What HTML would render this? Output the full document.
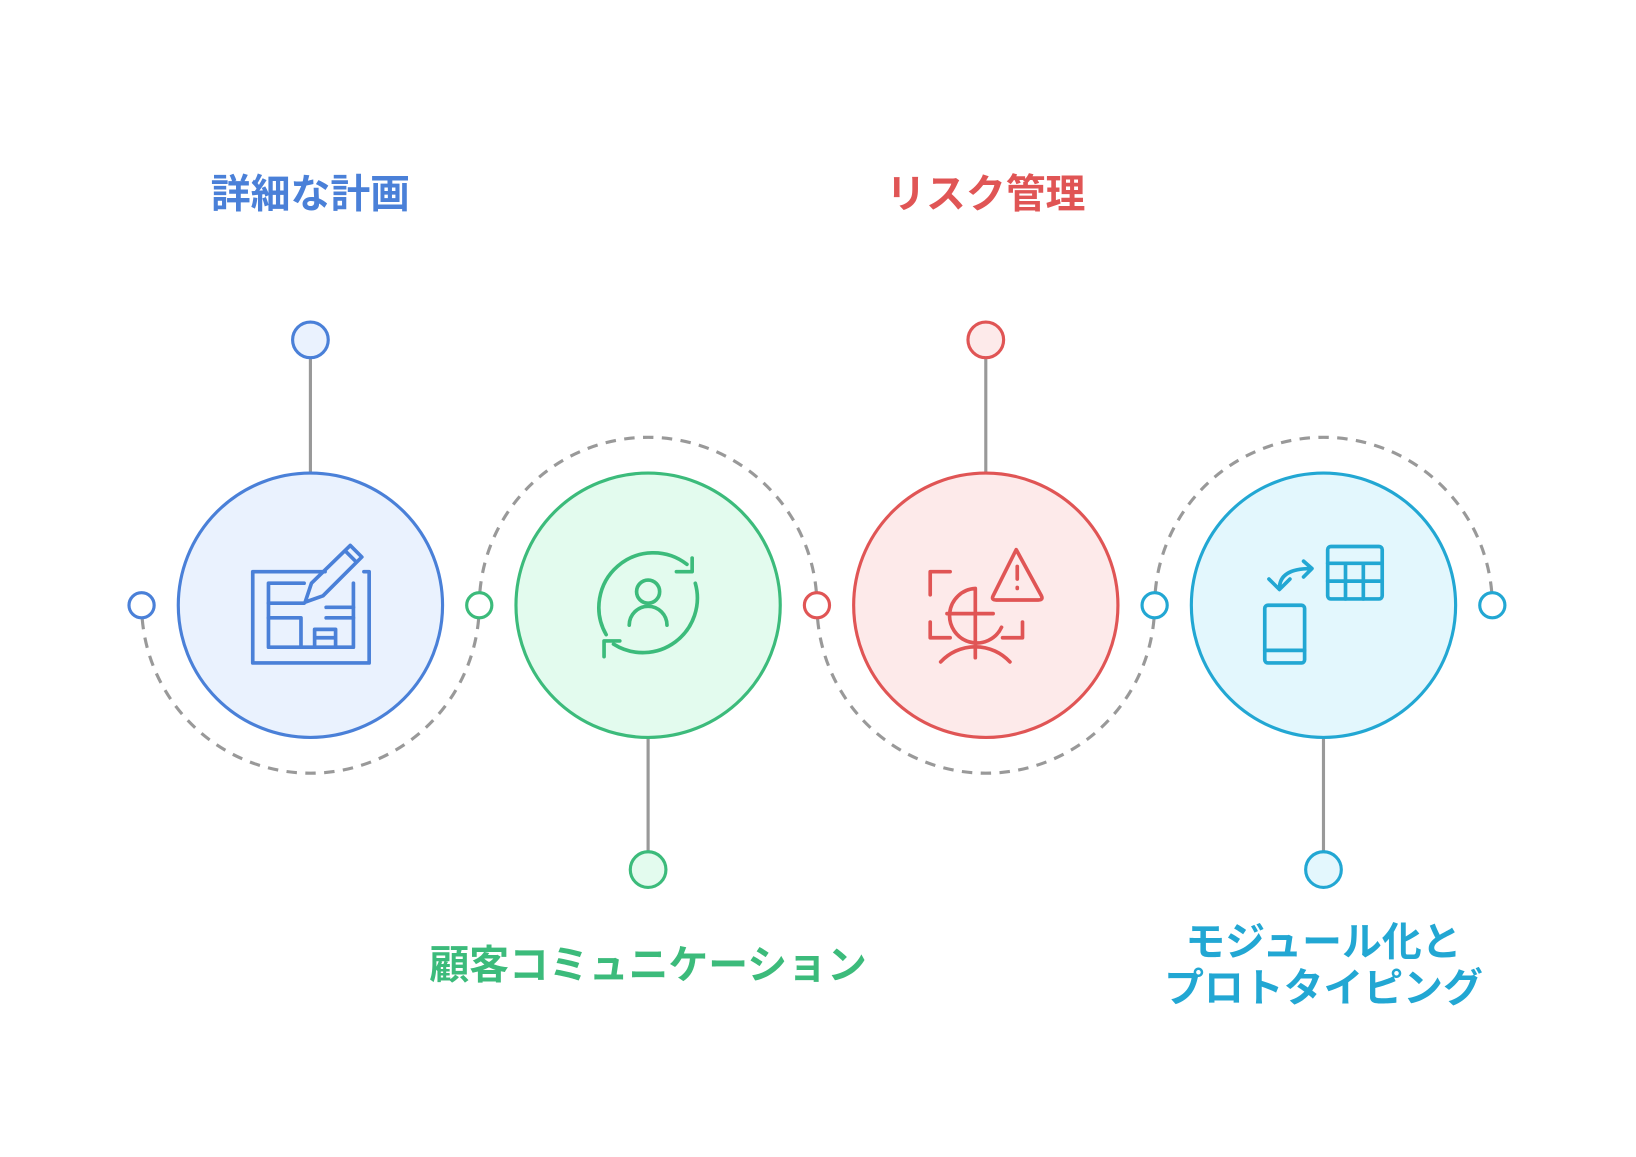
<!DOCTYPE html>
<html><head><meta charset="utf-8"><style>
html,body{margin:0;padding:0;background:#fff;}
svg{display:block}
text{font-family:"Liberation Sans","Noto Sans CJK JP",sans-serif;font-weight:bold;}
</style></head><body>
<svg width="1636" height="1157" viewBox="0 0 1560 1103" preserveAspectRatio="none" xmlns="http://www.w3.org/2000/svg">
<g fill="none" stroke="#999" stroke-width="3" stroke-dasharray="10 8">
<path d="M135.6 590 A161 161 0 0 0 456.4 590"/>
<path d="M457.6 564 A161 161 0 0 1 778.4 564"/>
<path d="M779.6 590 A161 161 0 0 0 1100.4 590"/>
<path d="M1101.6 564 A161 161 0 0 1 1422.4 564"/>
</g>
<g stroke="#999" stroke-width="3">
<line x1="296" y1="341" x2="296" y2="451"/>
<line x1="940" y1="341" x2="940" y2="451"/>
<line x1="618" y1="703" x2="618" y2="812"/>
<line x1="1262" y1="703" x2="1262" y2="812"/>
</g>
<g stroke-width="3">
<circle cx="296" cy="577" r="126" fill="#eaf2fe" stroke="#4a80d8"/>
<circle cx="618" cy="577" r="126" fill="#e3fbee" stroke="#3cbb7b"/>
<circle cx="940" cy="577" r="126" fill="#fdeaea" stroke="#e05555"/>
<circle cx="1262" cy="577" r="126" fill="#e3f7fd" stroke="#22a7d3"/>
<circle cx="296" cy="324" r="17" fill="#eaf2fe" stroke="#4a80d8"/>
<circle cx="940" cy="324" r="17" fill="#fdeaea" stroke="#e05555"/>
<circle cx="618" cy="829" r="17" fill="#e3fbee" stroke="#3cbb7b"/>
<circle cx="1262" cy="829" r="17" fill="#e3f7fd" stroke="#22a7d3"/>
<circle cx="135" cy="577" r="12" fill="#fff" stroke="#4a80d8"/>
<circle cx="457" cy="577" r="12" fill="#fff" stroke="#3cbb7b"/>
<circle cx="779" cy="577" r="12" fill="#fff" stroke="#e05555"/>
<circle cx="1101" cy="577" r="12" fill="#fff" stroke="#22a7d3"/>
<circle cx="1423" cy="577" r="12" fill="#fff" stroke="#22a7d3"/>
</g>
<g fill="none" stroke="#4a80d8" stroke-width="3.5" stroke-linejoin="round" stroke-linecap="round">
<path d="M310 545 H241 V632 H352 V545 H347"/>
<path d="M290 556 H256 V617 H337 V556"/>
<path d="M256 575 H290 M256 589 H287 V617 M311 589 H337 M311 579 H337 M300 617 V600 H320 V617 M300 608 H320"/>
<path d="M291 574 L297 556 L334 520 L345 531 L308 568 Z M329 525 L340 536"/>
</g>
<g fill="none" stroke="#3cbb7b" stroke-width="3.5" stroke-linecap="round" stroke-linejoin="round">
<path d="M578 605 A52 52 0 0 1 655 538"/>
<path d="M663 556 A52 52 0 0 1 585 614"/>
<path d="M645 545 H660 V532"/>
<path d="M576 626 V611 H591"/>
<circle cx="618" cy="564" r="11"/>
<path d="M600 596 A18 18 0 0 1 636 596"/>
</g>
<g fill="none" stroke="#e05555" stroke-width="3.5" stroke-linecap="round" stroke-linejoin="round">
<path d="M887 567 V545 H906 M887 593 V608 H906 M956 608 H975 V593"/>
<path d="M930 561 A26 26 0 1 0 955 598 M930 561 V627 M903 585 H947"/>
<path d="M897 631 A45 45 0 0 1 963 631"/>
<path d="M969 524 L993 568 Q995 572 990 572 H950 Q945 572 947 568 Z"/>
<path d="M970 540 V552 M970 560 V561"/>
</g>
<g fill="none" stroke="#22a7d3" stroke-width="3.5" stroke-linecap="round" stroke-linejoin="round">
<rect x="1206" y="577" width="38" height="55" rx="3"/>
<path d="M1206 620 H1244"/>
<rect x="1266" y="521" width="52" height="50" rx="3"/>
<path d="M1266 537 H1318 M1266 554 H1318 M1283 537 V571 M1300 537 V571"/>
<path d="M1220 561 Q1220 542 1250 542 M1243 535 L1251 542 L1243 550 M1210 552 L1220 562 L1230 552"/>
</g>
<text x="296" y="198" text-anchor="middle" font-size="38" fill="#4a80d8">詳細な計画</text>
<text x="940" y="198" text-anchor="middle" font-size="38" fill="#e05555">リスク管理</text>
<text x="618" y="933" text-anchor="middle" font-size="38" fill="#3cbb7b">顧客コミュニケーション</text>
<text x="1262" y="911" text-anchor="middle" font-size="38" fill="#22a7d3">モジュール化と</text>
<text x="1262" y="955" text-anchor="middle" font-size="38" fill="#22a7d3">プロトタイピング</text>
</svg>
</body></html>
